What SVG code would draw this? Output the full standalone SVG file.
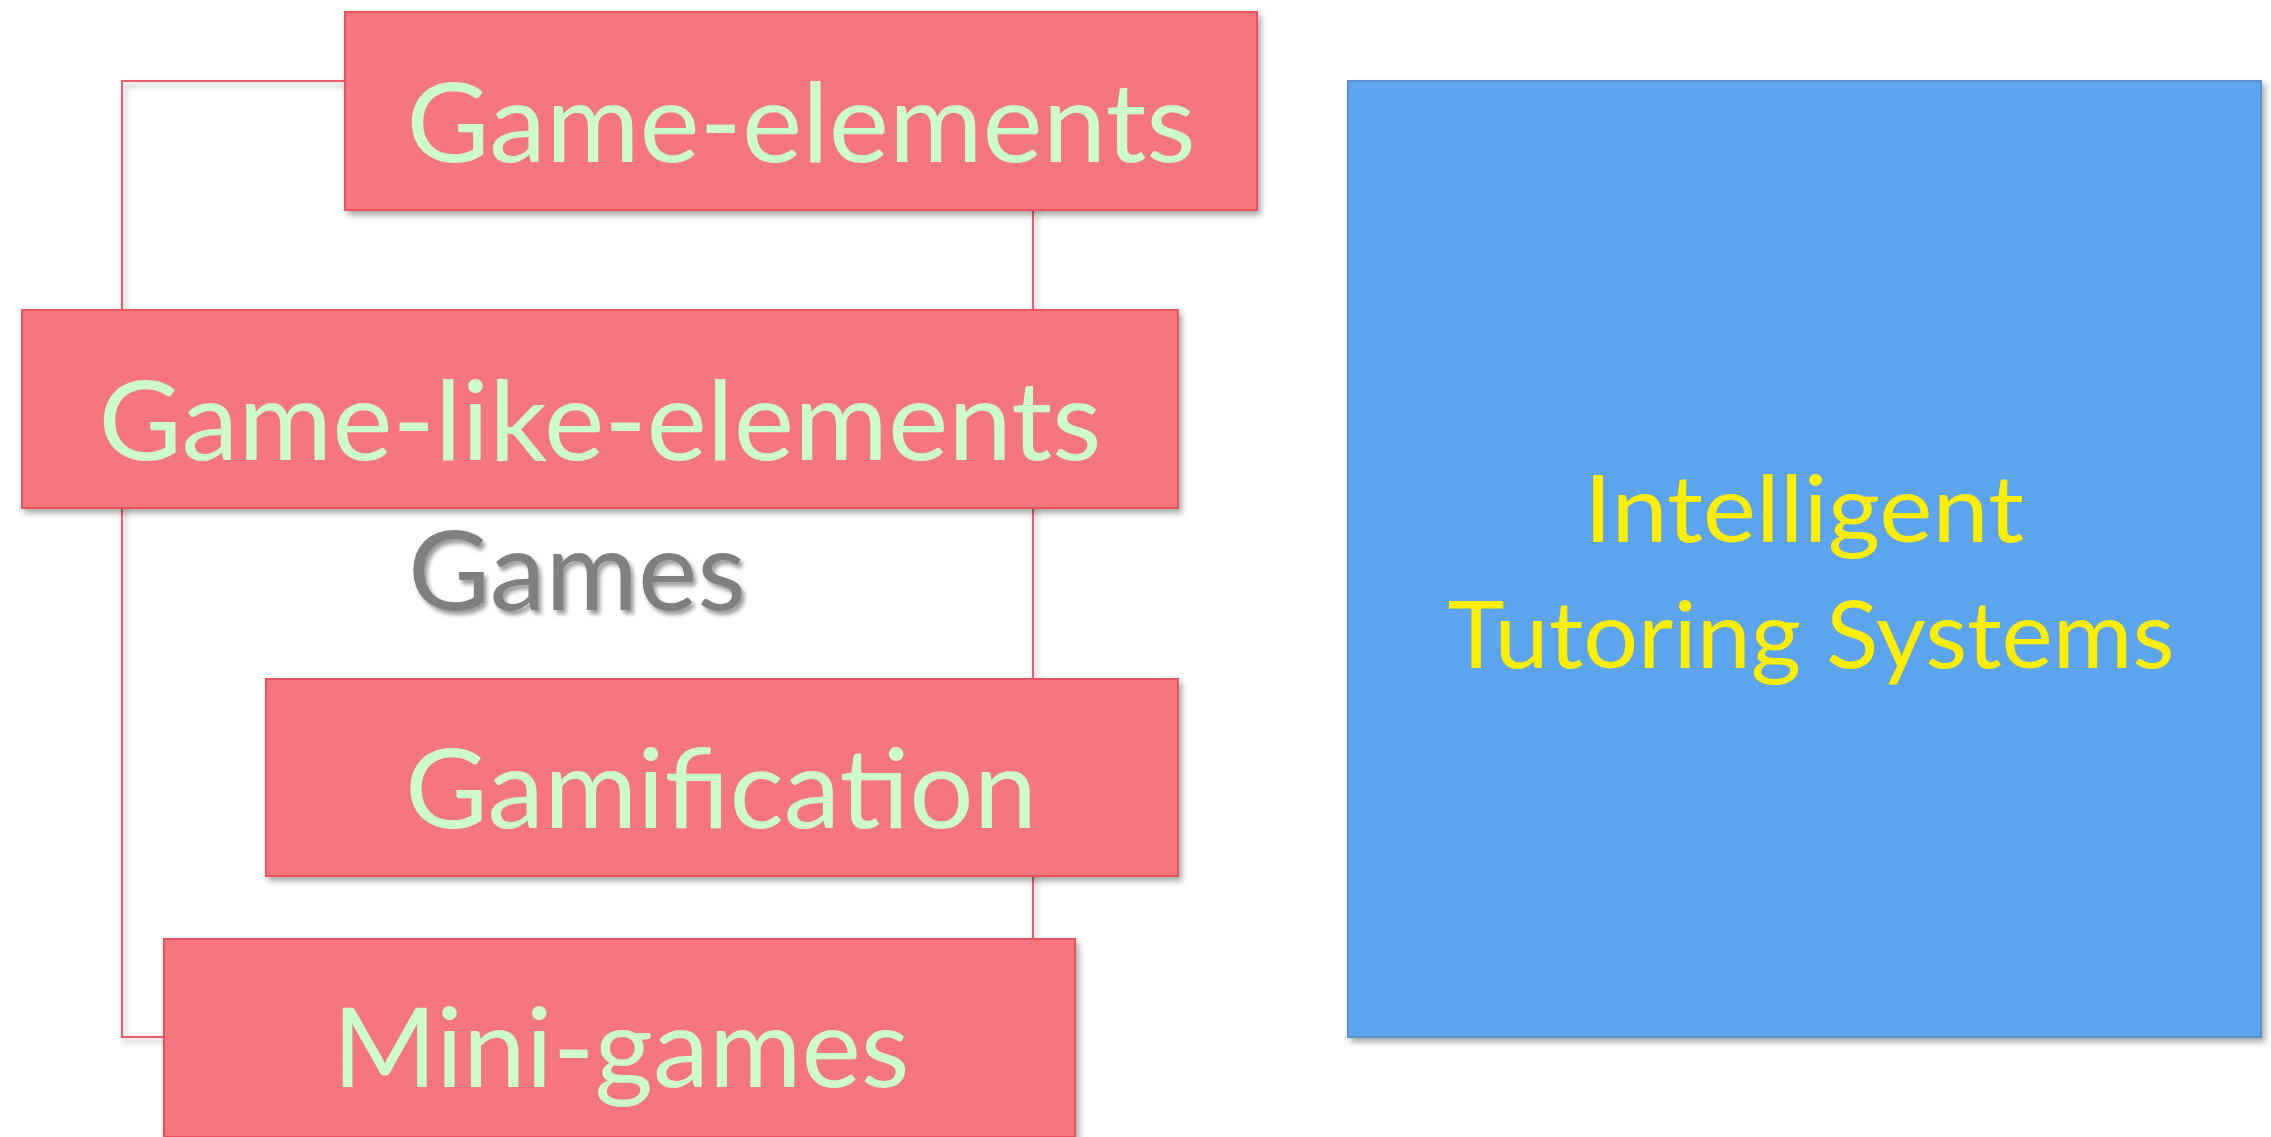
<svg xmlns="http://www.w3.org/2000/svg" width="2271" height="1137" viewBox="0 0 2271 1137">
  <defs>
    <filter id="shadow" x="-5%" y="-5%" width="112%" height="120%">
      <feGaussianBlur in="SourceAlpha" stdDeviation="3"/>
      <feOffset dx="3" dy="4" result="b"/>
      <feComponentTransfer><feFuncA type="linear" slope="0.35"/></feComponentTransfer>
      <feMerge><feMergeNode/><feMergeNode in="SourceGraphic"/></feMerge>
    </filter>
    <filter id="textShadow" x="-10%" y="-20%" width="130%" height="150%">
      <feGaussianBlur in="SourceAlpha" stdDeviation="2"/>
      <feOffset dx="3" dy="4"/>
      <feComponentTransfer><feFuncA type="linear" slope="0.4"/></feComponentTransfer>
      <feMerge><feMergeNode/><feMergeNode in="SourceGraphic"/></feMerge>
    </filter>
  </defs>
  <style>
    .box { fill: #F6767D; stroke: #E9525E; stroke-width: 2; filter: url(#shadow); }
    .its { fill: #5CA4EE; stroke: #5A8ED0; stroke-width: 2; filter: url(#shadow); }
    .frame { fill: none; stroke: #E8606B; stroke-width: 2; filter: url(#shadow); }
    .lbl { font-family: Lato, Carlito, "Open Sans", sans-serif; font-size: 110px; fill: #CCFCCA; text-anchor: middle; }
    .games { font-family: Lato, Carlito, "Open Sans", sans-serif; font-size: 110px; fill: #808080; text-anchor: middle; filter: url(#textShadow); }
    .itsl { font-family: Lato, Carlito, "Open Sans", sans-serif; font-size: 93px; fill: #FFEE00; text-anchor: middle; }
  </style>
  <rect width="2271" height="1137" fill="#FFFFFF"/>

  <!-- frame around the games family -->
  <g id="connectors">
    <rect class="frame" x="122" y="81" width="911" height="956"/>
  </g>

  <g id="games-label">
    <text class="games" x="577" y="610" textLength="338" lengthAdjust="spacingAndGlyphs">Games</text>
  </g>

  <g id="game-elements">
    <rect class="box" x="345" y="12" width="912" height="198"/>
    <text class="lbl" x="801" y="162" textLength="789" lengthAdjust="spacingAndGlyphs">Game-elements</text>
  </g>

  <g id="game-like-elements">
    <rect class="box" x="22" y="310" width="1156" height="198"/>
    <text class="lbl" x="600" y="460" textLength="1003" lengthAdjust="spacingAndGlyphs">Game-like-elements</text>
  </g>

  <g id="gamification">
    <rect class="box" x="266" y="679" width="912" height="197"/>
    <text class="lbl" x="721" y="828" textLength="632" lengthAdjust="spacingAndGlyphs">Gamification</text>
  </g>

  <g id="mini-games">
    <rect class="box" x="164" y="939" width="911" height="198"/>
    <text class="lbl" x="621" y="1087" textLength="577" lengthAdjust="spacingAndGlyphs">Mini-games</text>
  </g>

  <g id="intelligent-tutoring-systems">
    <rect class="its" x="1348" y="81" width="913" height="956"/>
    <text class="itsl" x="1804" y="542" textLength="440" lengthAdjust="spacingAndGlyphs">Intelligent</text>
    <text class="itsl" x="1811" y="668" textLength="727" lengthAdjust="spacingAndGlyphs">Tutoring Systems</text>
  </g>
</svg>
